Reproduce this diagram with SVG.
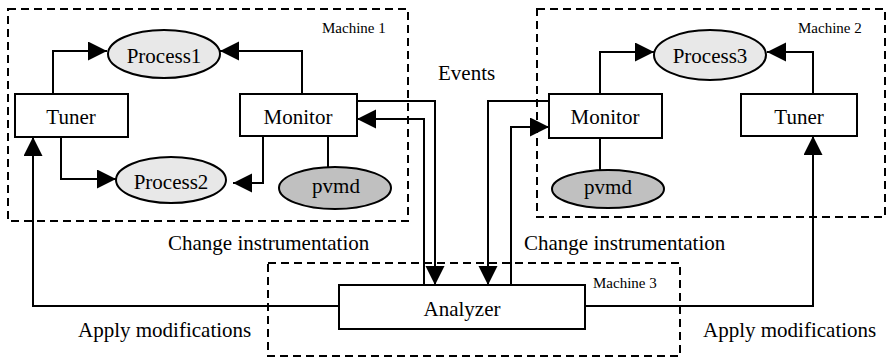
<svg xmlns="http://www.w3.org/2000/svg" width="888" height="358" viewBox="0 0 888 358">
  <style>
    .machine { fill: none; stroke: #000; stroke-width: 2; stroke-dasharray: 8 5; }
    .box { fill: #fff; stroke: #000; stroke-width: 2; }
    .proc { fill: #e8e8e8; stroke: #000; stroke-width: 2; }
    .daemon { fill: #c0c0c0; stroke: #000; stroke-width: 2; }
    .wire { fill: none; stroke: #000; stroke-width: 2; }
    .arrow { marker-end: url(#head); }
    .lbl { font-size: 21px; }
    .node { font-size: 21px; text-anchor: middle; }
    .mlbl { font-size: 15px; }
  </style>
  <defs>
    <marker id="head" markerUnits="userSpaceOnUse" markerWidth="20" markerHeight="20" refX="19" refY="9.5" orient="auto">
      <path d="M0,0 L19,9.5 L0,19 Z" fill="#000"/>
    </marker>
  </defs>

  <g font-family="Liberation Serif, DejaVu Serif, serif" fill="#000">
  <!-- machine boundaries -->
  <g id="machine1">
    <rect class="machine" x="8" y="9" width="400" height="212"/>
    <text class="mlbl" x="322" y="33">Machine 1</text>
  </g>
  <g id="machine2">
    <rect class="machine" x="537" y="9" width="348" height="208"/>
    <text class="mlbl" x="798" y="33">Machine 2</text>
  </g>
  <g id="machine3">
    <rect class="machine" x="268" y="263" width="412" height="93" stroke-width="1.6"/>
    <text class="mlbl" x="593" y="288">Machine 3</text>
  </g>

  <!-- connectors -->
  <g id="connectors">
    <path class="wire arrow" d="M53,94 V51 H107"/>
    <path class="wire arrow" d="M302,94 V51 H220"/>
    <path class="wire arrow" d="M61,137 V179 H116"/>
    <path class="wire arrow" d="M263,136 V183 H233"/>
    <path class="wire" d="M328,136 V167"/>

    <path class="wire arrow" d="M600,94 V52 H654"/>
    <path class="wire arrow" d="M813,94 V52 H767"/>
    <path class="wire" d="M600,138 V170"/>

    <path class="wire arrow" d="M357,101 H435 V285"/>
    <path class="wire arrow" d="M424,285 V119 H357"/>
    <path class="wire arrow" d="M549,101 H488 V285"/>
    <path class="wire arrow" d="M511,285 V127 H549"/>

    <path class="wire arrow" d="M339,306 H33 V137"/>
    <path class="wire arrow" d="M585,306 H813 V136"/>
  </g>

  <!-- machine 1 nodes -->
  <g id="process1">
    <ellipse class="proc" cx="164" cy="54" rx="56" ry="24"/>
    <text class="node" x="164" y="63">Process1</text>
  </g>
  <g id="tuner1">
    <rect class="box" x="15" y="94" width="113" height="43"/>
    <text class="node" x="71" y="124">Tuner</text>
  </g>
  <g id="monitor1">
    <rect class="box" x="240" y="94" width="117" height="42"/>
    <text class="node" x="298" y="124">Monitor</text>
  </g>
  <g id="process2">
    <ellipse class="proc" cx="171" cy="180" rx="55" ry="23"/>
    <text class="node" x="171" y="189">Process2</text>
  </g>
  <g id="pvmd1">
    <ellipse class="daemon" cx="335" cy="188" rx="56" ry="21"/>
    <text class="node" x="336" y="193">pvmd</text>
  </g>

  <!-- machine 2 nodes -->
  <g id="process3">
    <ellipse class="proc" cx="710" cy="55" rx="56" ry="25"/>
    <text class="node" x="710" y="63">Process3</text>
  </g>
  <g id="monitor2">
    <rect class="box" x="549" y="94" width="113" height="44"/>
    <text class="node" x="605" y="124">Monitor</text>
  </g>
  <g id="tuner2">
    <rect class="box" x="741" y="94" width="116" height="42"/>
    <text class="node" x="799" y="124">Tuner</text>
  </g>
  <g id="pvmd2">
    <ellipse class="daemon" cx="608" cy="189" rx="56" ry="19"/>
    <text class="node" x="608" y="194">pvmd</text>
  </g>

  <!-- machine 3 node -->
  <g id="analyzer">
    <rect class="box" x="339" y="285" width="246" height="44"/>
    <text class="node" x="462" y="316">Analyzer</text>
  </g>

  <!-- connector labels -->
  <g id="labels">
    <text class="lbl" x="438" y="80">Events</text>
    <text class="lbl" x="168" y="250">Change instrumentation</text>
    <text class="lbl" x="524" y="250">Change instrumentation</text>
    <text class="lbl" x="78" y="337">Apply modifications</text>
    <text class="lbl" x="703" y="337">Apply modifications</text>
  </g>
  </g>
</svg>
